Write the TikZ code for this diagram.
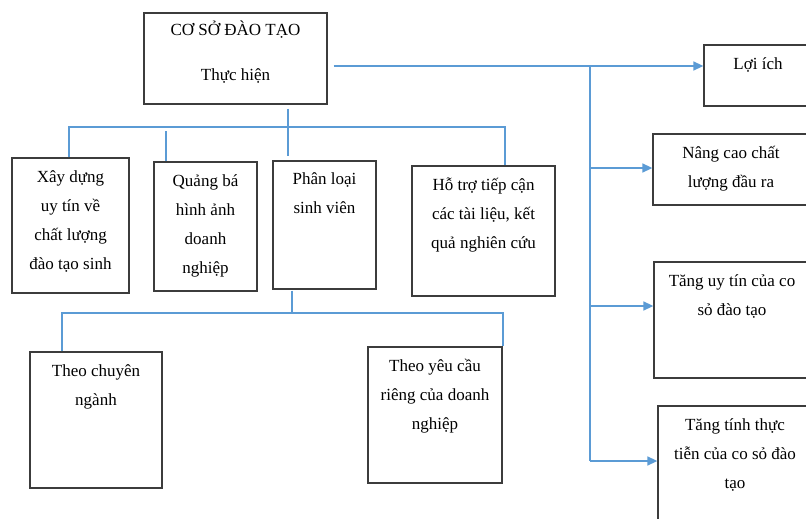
\documentclass[tikz,border=0pt]{standalone}
\usepackage{fontspec}
\setmainfont{Liberation Serif}
\usetikzlibrary{positioning,arrows.meta}
\definecolor{linkblue}{RGB}{91,155,213}
\definecolor{boxgray}{RGB}{60,60,60}
\begin{document}
\begin{tikzpicture}[x=1pt,y=-1pt,
    box/.style={rectangle,draw=boxgray,line width=1.3pt,inner sep=0pt},
    txt/.style={align=center,inner sep=0pt,font=\fontsize{17}{29}\selectfont},
    link/.style={draw=linkblue,line width=1.5pt},
    arr/.style={link,-{Triangle[length=10pt,width=9pt]}}]
  \useasboundingbox (0,0) rectangle (806,519);
  \node[box,minimum width=183,minimum height=91] (top) at (235.5,58.5) {};
  \node[txt,below=8pt of top.north] (topt) {CƠ SỞ ĐÀO TẠO\\[16pt]Thực hiện};

  \node[box,minimum width=117,minimum height=135] (uytin) at (70.5,225.5) {};
  \node[txt,below=13pt of uytin.north] (uytint) {Xây dựng\\uy tín về\\chất lượng\\đào tạo sinh};
  \node[box,minimum width=103,minimum height=129] (quangba) at (205.5,226.5) {};
  \node[txt,below=13pt of quangba.north] (quangbat) {Quảng bá\\hình ảnh\\doanh\\nghiệp};
  \node[box,minimum width=103,minimum height=128] (phanloai) at (324.5,225) {};
  \node[txt,below=12pt of phanloai.north] (phanloait) {Phân loại\\sinh viên};
  \node[box,minimum width=143,minimum height=130] (hotro) at (483.5,231) {};
  \node[txt,below=12pt of hotro.north] (hotrot) {Hỗ trợ tiếp cận\\các tài liệu, kết\\quả nghiên cứu};

  \node[box,minimum width=132,minimum height=136] (nganh) at (96,420) {};
  \node[txt,below=13pt of nganh.north] (nganht) {Theo chuyên\\ngành};
  \node[box,minimum width=134,minimum height=136] (yeucau) at (435,415) {};
  \node[txt,below=13pt of yeucau.north] (yeucaut) {Theo yêu cầu\\riêng của doanh\\nghiệp};

  \node[box,minimum width=108,minimum height=61] (loiich) at (758,75.5) {};
  \node[txt,below=13pt of loiich.north] (loiicht) {Lợi ích};
  \node[box,minimum width=156,minimum height=71] (nangcao) at (731,169.5) {};
  \node[txt,below=13pt of nangcao.north] (nangcaot) {Nâng cao chất\\lượng đầu ra};
  \node[box,minimum width=156,minimum height=116] (tanguytin) at (732,320) {};
  \node[txt,below=13pt of tanguytin.north] (tanguytint) {Tăng uy tín của co\\sỏ đào tạo};
  \node[box,minimum width=154,minimum height=124] (thuctien) at (735,468) {};
  \node[txt,below=13pt of thuctien.north] (thuctient) {Tăng tính thực\\tiễn của co sỏ đào\\tạo};

  \coordinate (h1) at (69,127);
  \coordinate (h2) at (166,131);
  \coordinate (h3) at (288,127);
  \coordinate (h4) at (505,127);
  \draw[link] ([yshift=-4pt]top.south -| h3) -- ([yshift=4pt]phanloai.north -| h3);
  \draw[link] (uytin.north -| h1) -- (h1) -- (h4) -- (hotro.north -| h4);
  \draw[link] (h2) -- (quangba.north -| h2);

  \coordinate (k0) at (292,313);
  \coordinate (k1) at (62,313);
  \coordinate (k2) at (503,313);
  \draw[link] ([yshift=-1pt]phanloai.south -| k0) -- (k0);
  \draw[link] (nganh.north -| k1) -- (k1) -- (k2) -- (yeucau.north -| k2);

  \coordinate (r0) at (590,66);
  \coordinate (r1) at (590,168);
  \coordinate (r2) at (590,306);
  \coordinate (r3) at (590,461);
  \draw[arr] ([xshift=6pt]top.east |- r0) -- (loiich.west |- r0);
  \draw[link] (r0) -- (r3);
  \draw[arr] (r1) -- (nangcao.west |- r1);
  \draw[arr] (r2) -- (tanguytin.west |- r2);
  \draw[arr] (r3) -- (thuctien.west |- r3);
\end{tikzpicture}
\end{document}
